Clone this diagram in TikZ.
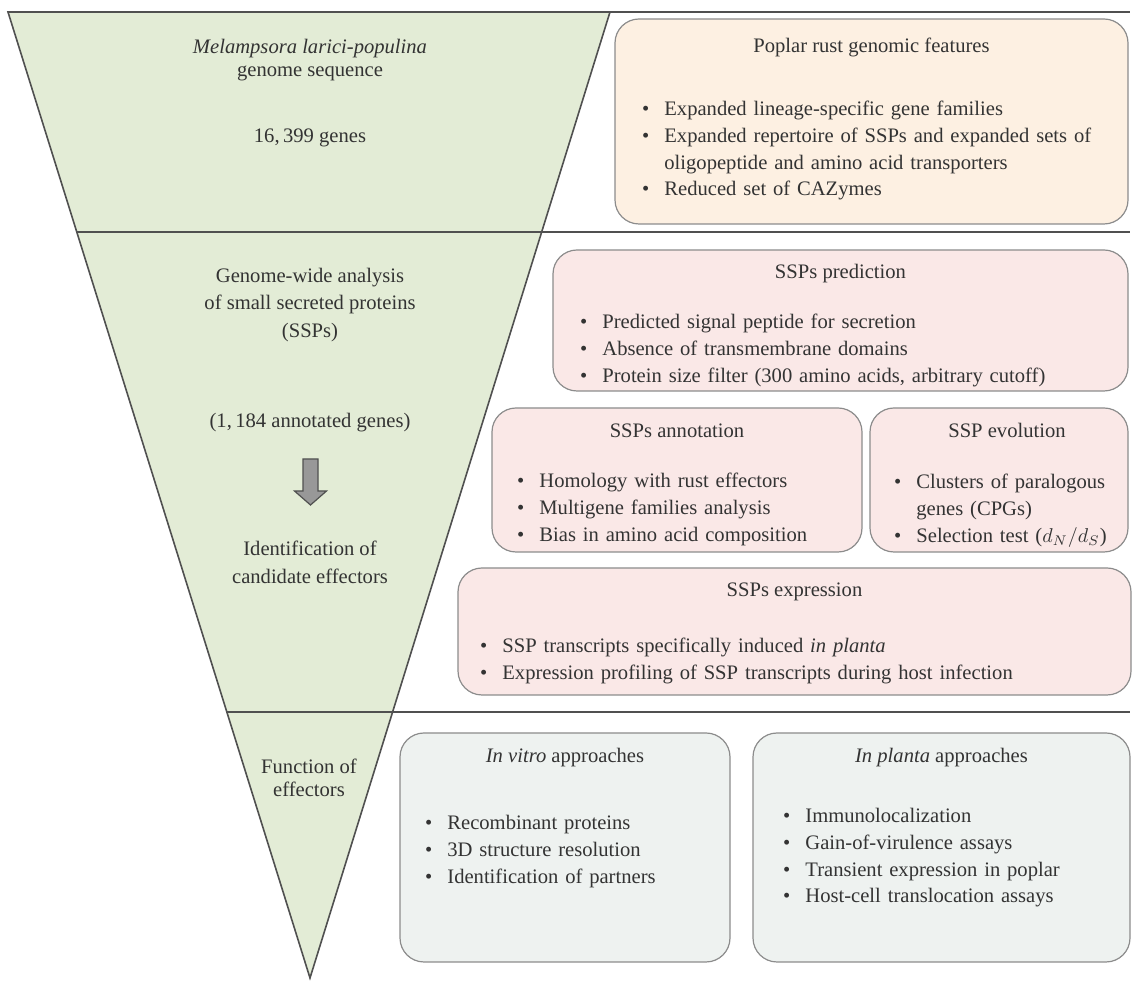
\documentclass[tikz,border=0pt]{standalone}
\usepackage{fontspec}
\setmainfont{Liberation Serif}
\usepackage{xcolor}
\usetikzlibrary{positioning}
\definecolor{leafgreen}{HTML}{E3ECD6}
\definecolor{peach}{HTML}{FDF0E2}
\definecolor{blush}{HTML}{FAE8E7}
\definecolor{mist}{HTML}{EEF2F0}
\definecolor{edgegray}{HTML}{8C8C8C}
\definecolor{rulegray}{HTML}{505050}
\definecolor{inkgray}{HTML}{333333}
\definecolor{arrowgray}{HTML}{989898}
\newenvironment{featlist}{\begin{list}{\textbullet}{\leftmargin=9.5pt\labelwidth=4pt\labelsep=7.5pt\itemsep=0pt\parsep=0pt\topsep=0pt\partopsep=0pt}\raggedright}{\end{list}}

\begin{document}
\begin{tikzpicture}[x=0.5pt,y=-0.5pt,
  panel/.style={draw=edgegray,rounded corners=12pt,line width=0.6pt,inner sep=0pt},
  head/.style={font=\fontsize{10.3}{13.3}\selectfont,text=inkgray,text height=7pt,text depth=2pt,inner sep=0pt},
  stage/.style={font=\fontsize{10.3}{13.3}\selectfont,text=inkgray,align=center,inner sep=0pt},
  items/.style={font=\fontsize{10.3}{13.3}\selectfont,text=inkgray,anchor=north west,inner sep=0pt},
  rule/.style={draw=rulegray,line width=0.8pt}
]
\useasboundingbox (0,0) rectangle (1132,983);
% funnel and the three stages
\draw[rule,fill=leafgreen] (8,12) -- (610,12) -- (310,978) -- cycle;
\draw[rule] (8,12) -- (1130,12);
\draw[rule] (76.8,232) -- (1130,232);
\draw[rule] (226.8,712) -- (1130,712);
\node[stage,font=\fontsize{10.3}{11.2}\selectfont] (species) at (310,60) {\textit{Melampsora larici-populina}\\genome sequence};
\node[stage] (genes) at (310,138) {16,\,399 genes};
\node[stage,font=\fontsize{10.3}{13.8}\selectfont] (ssps) at (310,305) {Genome-wide analysis\\of small secreted proteins\\(SSPs)};
\node[stage] (annotated) at (310,423) {(1,\,184 annotated genes)};
\node[stage,font=\fontsize{10.3}{14}\selectfont] (candidates) at (310,562) {Identification of\\candidate effectors};
\node[stage,font=\fontsize{10.3}{11.2}\selectfont] (function) at (309,778) {Function of\\effectors};
\draw[draw=rulegray,fill=arrowgray,line width=0.6pt] (303,459) -- (318,459) -- (318,491) -- (326.5,491) -- (310.5,505) -- (294.5,491) -- (303,491) -- cycle;
% genome panel
\node[panel,fill=peach,minimum width=256.5pt,minimum height=102.5pt] (genomic) at (871.5,121.5) {};
\node[head,below=10pt of genomic.north] (genomictitle) {Poplar rust genomic features};
\node[items,text width=236pt] (genomiclist) at (645,89) {\begin{featlist}
\item\strut Expanded lineage-specific gene families
\item Expanded repertoire of SSPs and expanded sets of\newline oligopeptide and amino acid transporters
\item Reduced set of CAZymes
\end{featlist}};
% SSP panels
\node[panel,fill=blush,minimum width=287.5pt,minimum height=70.5pt] (predict) at (840.5,320.5) {};
\node[head,below=7.5pt of predict.north] (predicttitle) {SSPs prediction};
\node[items,text width=268pt] (predictlist) at (583,302) {\begin{featlist}
\item\strut Predicted signal peptide for secretion
\item Absence of transmembrane domains
\item Protein size filter (300 amino acids, arbitrary cutoff)
\end{featlist}};
\node[panel,fill=blush,minimum width=185pt,minimum height=72pt] (annot) at (677,480) {};
\node[head,below=8pt of annot.north] (annottitle) {SSPs annotation};
\node[items,text width=166pt] (annotlist) at (520,461) {\begin{featlist}
\item\strut Homology with rust effectors
\item Multigene families analysis
\item Bias in amino acid composition
\end{featlist}};
\node[panel,fill=blush,minimum width=129pt,minimum height=72pt] (evol) at (999,480) {};
\node[head,below=8pt of evol.north,xshift=4pt] (evoltitle) {SSP evolution};
\node[items,text width=113pt] (evollist) at (897,462) {\begin{featlist}
\item\strut Clusters of paralogous\newline genes (CPGs)
\item Selection test ($d_N/d_S$)
\end{featlist}};
\node[panel,fill=blush,minimum width=336.5pt,minimum height=63.5pt] (expr) at (794.5,631.5) {};
\node[head,below=7.5pt of expr.north] (exprtitle) {SSPs expression};
\node[items,text width=320pt] (exprlist) at (483,626) {\begin{featlist}
\item\strut SSP transcripts specifically induced \textit{in planta}
\item Expression profiling of SSP transcripts during host infection
\end{featlist}};
% function panels
\node[panel,fill=mist,minimum width=165pt,minimum height=114.5pt] (vitro) at (565,847.5) {};
\node[head,below=8pt of vitro.north] (vitrotitle) {\textit{In vitro} approaches};
\node[items,text width=145pt] (vitrolist) at (428,803) {\begin{featlist}
\item\strut Recombinant proteins
\item 3D structure resolution
\item Identification of partners
\end{featlist}};
\node[panel,fill=mist,minimum width=188.5pt,minimum height=114.5pt] (planta) at (941.5,847.5) {};
\node[head,below=8pt of planta.north] (plantatitle) {\textit{In planta} approaches};
\node[items,text width=168pt] (plantalist) at (786,796) {\begin{featlist}
\item\strut Immunolocalization
\item Gain-of-virulence assays
\item Transient expression in poplar
\item Host-cell translocation assays
\end{featlist}};
\end{tikzpicture}
\end{document}
